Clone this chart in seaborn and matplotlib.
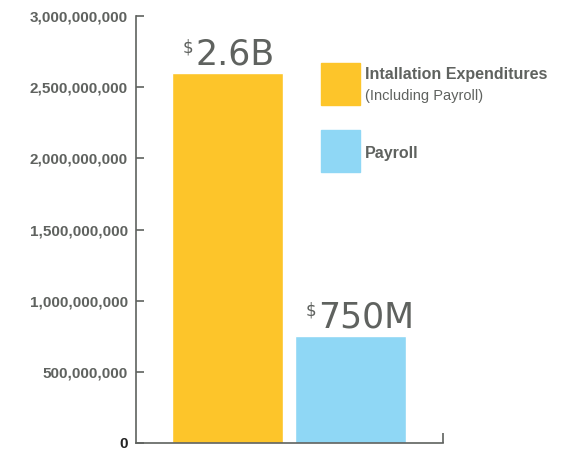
import matplotlib
matplotlib.use("Agg")
import matplotlib.pyplot as plt
import matplotlib.ticker as mticker
from matplotlib.patches import Rectangle
import seaborn as sns
import pandas as pd

# data
categories = ["Intallation Expenditures", "Payroll"]
amounts = [2.6e9, 7.5e8]
bar_labels = ["2.6B", "750M"]
colors = ["#FDC52A", "#8FD7F5"]
y_ticks = [0, 5e8, 1e9, 1.5e9, 2e9, 2.5e9, 3e9]

df = pd.DataFrame({"Category": categories, "Amount": amounts})

sns.set_style("white")
plt.rcParams["font.family"] = ["Liberation Sans", "DejaVu Sans"]
grey = "#5f625f"

fig = plt.figure(figsize=(5.71, 4.5), dpi=100)
ax = fig.add_axes([136 / 571, 7 / 450, (443 - 136) / 571, (443 - 16) / 450])

sns.barplot(data=df, x="Category", y="Amount", hue="Category",
            palette=colors, width=0.9, saturation=1, legend=False, ax=ax)

ax.set_ylim(0, 3e9)
ax.set_xlim(-0.744, 1.752)
ax.set_xlabel("")
ax.set_ylabel("")
sns.despine(ax=ax, top=True, right=True)
for s in ["left", "bottom"]:
    ax.spines[s].set_color(grey)
    ax.spines[s].set_linewidth(1.2)

ax.set_yticks(y_ticks)
ax.yaxis.set_major_formatter(mticker.StrMethodFormatter("{x:,.0f}"))
ax.tick_params(axis="y", left=True, direction="in", length=6, width=1.2,
               color=grey, labelsize=11, labelcolor=grey, pad=6)
for lab in ax.get_yticklabels():
    lab.set_fontweight("bold")
ax.get_yticklabels()[0].set_color("#222222")

# small end tick on the x axis
ax.set_xticks([1.752])
ax.set_xticklabels([""])
ax.tick_params(axis="x", bottom=True, direction="in", length=7, width=1.2,
               color=grey)

# value labels above bars
for i, (v, lab) in enumerate(zip(amounts, bar_labels)):
    ax.annotate(lab, xy=(i, v), xytext=(-23, 6), textcoords="offset points",
                ha="left", va="baseline", fontsize=25, color=grey,
                family="DejaVu Sans")
    ax.annotate("$", xy=(i, v), xytext=(-25, 25), textcoords="offset points",
                ha="right", va="top", fontsize=12, color=grey,
                family="DejaVu Sans")

# legend
fig.patches.append(Rectangle((321 / 571, 1 - 105 / 450), 39 / 571, 42 / 450,
                             transform=fig.transFigure, color=colors[0]))
fig.patches.append(Rectangle((321 / 571, 1 - 172 / 450), 39 / 571, 42 / 450,
                             transform=fig.transFigure, color=colors[1]))
fig.text(365 / 571, 1 - 75 / 450, "Intallation Expenditures", fontsize=11.5,
         fontweight="bold", color=grey, va="center")
fig.text(365 / 571, 1 - 96 / 450, "(Including Payroll)", fontsize=10.5,
         color=grey, va="center")
fig.text(365 / 571, 1 - 153 / 450, "Payroll", fontsize=11.5,
         fontweight="bold", color=grey, va="center")

fig.savefig("out.png", dpi=100)
